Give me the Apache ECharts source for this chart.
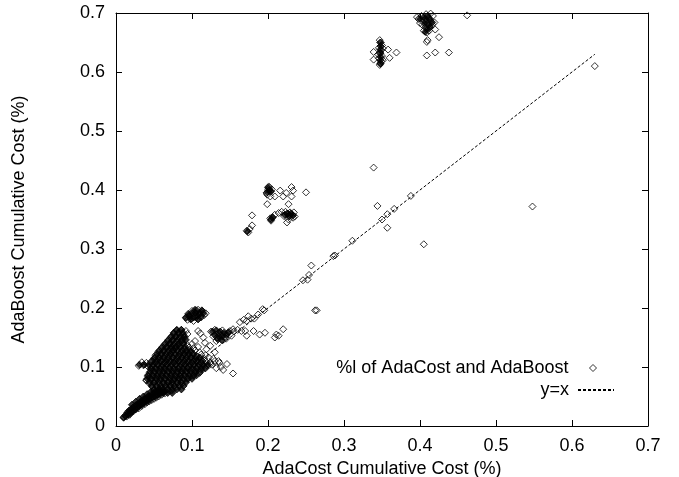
<!DOCTYPE html>
<html>
<head>
<meta charset="utf-8">
<script src="https://cdn.jsdelivr.net/npm/echarts@6/dist/echarts.min.js"></script>
<style>
  html, body { margin: 0; padding: 0; background: #fff; }
  #chart { width: 679px; height: 477px; }
</style>
</head>
<body>
<div id="chart"></div>
<script>
// axis ticks
var xTicks = [0, 0.1, 0.2, 0.3, 0.4, 0.5, 0.6, 0.7];
var yTicks = [0, 0.1, 0.2, 0.3, 0.4, 0.5, 0.6, 0.7];

// y=x reference line ends (min / max of the data)
var diagLine = [[0.010, 0.010], [0.63, 0.63]];

// low tail near origin (open marks)
var tailPts = [
  [0.010,0.015],[0.012,0.018],[0.014,0.016],[0.015,0.020],[0.017,0.022],[0.018,0.019],
  [0.020,0.024],[0.021,0.027],[0.023,0.025],[0.024,0.030],[0.026,0.028],[0.027,0.032],
  [0.029,0.034],[0.030,0.030],[0.031,0.036],[0.033,0.038],[0.034,0.034],[0.035,0.040],
  [0.037,0.042],[0.038,0.037],[0.040,0.044],[0.041,0.040],[0.043,0.046],[0.044,0.042],
  [0.046,0.048],[0.047,0.044],[0.049,0.050],[0.050,0.046],[0.052,0.052],[0.053,0.048],
  [0.055,0.054],[0.056,0.050],[0.058,0.056],[0.060,0.053],[0.062,0.058],[0.064,0.055]
];

// main blob, outer marks (x 0.03-0.14, y 0.06-0.165)
var blobPts = [
  [0.050,0.060],[0.056,0.061],[0.062,0.059],[0.068,0.062],[0.074,0.060],
  [0.048,0.066],[0.054,0.067],[0.060,0.065],[0.066,0.066],[0.072,0.067],[0.078,0.065],[0.084,0.068],
  [0.044,0.072],[0.050,0.073],[0.057,0.071],[0.063,0.072],[0.069,0.074],[0.075,0.071],[0.081,0.073],[0.087,0.072],
  [0.040,0.078],[0.046,0.079],[0.052,0.077],[0.058,0.078],[0.064,0.080],[0.070,0.077],[0.076,0.078],[0.082,0.079],[0.088,0.077],[0.094,0.080],
  [0.042,0.084],[0.048,0.085],[0.054,0.083],[0.060,0.084],[0.066,0.086],[0.072,0.083],[0.078,0.085],[0.084,0.084],[0.090,0.086],[0.096,0.083],[0.102,0.085],
  [0.044,0.090],[0.050,0.091],[0.056,0.089],[0.062,0.090],[0.068,0.092],[0.074,0.089],[0.080,0.091],[0.086,0.090],[0.092,0.092],[0.098,0.089],[0.104,0.091],[0.110,0.090],
  [0.046,0.096],[0.052,0.097],[0.058,0.095],[0.064,0.096],[0.070,0.098],[0.076,0.095],[0.082,0.097],[0.088,0.096],[0.094,0.098],[0.100,0.095],[0.106,0.097],[0.112,0.096],[0.118,0.098],
  [0.030,0.102],[0.036,0.103],[0.042,0.101],[0.048,0.102],[0.054,0.104],[0.060,0.101],[0.066,0.103],[0.072,0.102],[0.078,0.104],[0.084,0.101],[0.090,0.103],[0.096,0.102],[0.102,0.104],[0.108,0.101],[0.114,0.103],[0.120,0.102],[0.126,0.104],
  [0.034,0.108],[0.040,0.107],[0.046,0.109],[0.052,0.108],[0.058,0.110],[0.064,0.107],[0.070,0.109],[0.076,0.108],[0.082,0.110],[0.088,0.107],[0.094,0.109],[0.100,0.108],[0.106,0.110],[0.112,0.107],[0.118,0.109],[0.124,0.108],[0.130,0.110],[0.136,0.107],
  [0.050,0.114],[0.056,0.115],[0.062,0.113],[0.068,0.114],[0.074,0.116],[0.080,0.113],[0.086,0.115],[0.092,0.114],[0.098,0.116],[0.104,0.113],[0.110,0.115],[0.116,0.114],[0.122,0.116],
  [0.052,0.120],[0.058,0.121],[0.064,0.119],[0.070,0.120],[0.076,0.122],[0.082,0.119],[0.088,0.121],[0.094,0.120],[0.100,0.122],[0.106,0.119],[0.112,0.121],[0.118,0.120],
  [0.056,0.126],[0.062,0.127],[0.068,0.125],[0.074,0.126],[0.080,0.128],[0.086,0.125],[0.092,0.127],[0.098,0.126],[0.104,0.128],[0.110,0.125],
  [0.060,0.132],[0.066,0.133],[0.072,0.131],[0.078,0.132],[0.084,0.134],[0.090,0.131],[0.096,0.133],[0.102,0.132],[0.108,0.134],
  [0.064,0.138],[0.070,0.139],[0.076,0.137],[0.082,0.138],[0.088,0.140],[0.094,0.137],[0.100,0.139],
  [0.068,0.144],[0.074,0.145],[0.080,0.143],[0.086,0.144],[0.092,0.146],
  [0.072,0.150],[0.078,0.151],[0.084,0.149],[0.090,0.150],
  [0.076,0.156],[0.082,0.157],[0.088,0.155],[0.094,0.156],
  [0.080,0.162],[0.086,0.163],[0.092,0.161]
];

// loose points around the blob
var loosePts = [
  [0.111,0.157],[0.104,0.144],[0.117,0.141],[0.119,0.130],[0.124,0.136],[0.130,0.125],
  [0.128,0.114],[0.135,0.110],[0.141,0.095],[0.146,0.105],[0.154,0.089],[0.124,0.105],
  [0.138,0.100],[0.132,0.098],[0.115,0.150],[0.108,0.161],[0.071,0.139],[0.075,0.130],
  [0.040,0.077],[0.100,0.195]
];

// small group at x~0.1, y~0.19
var groupA = [
  [0.092,0.183],[0.096,0.186],[0.100,0.182],[0.104,0.185],[0.108,0.181],[0.112,0.184],
  [0.098,0.190],[0.104,0.192],[0.110,0.190],[0.114,0.194],[0.106,0.196],[0.116,0.188],
  [0.094,0.180],[0.102,0.178],[0.108,0.197],[0.118,0.191]
];

// group at x~0.14, y~0.155
var groupB = [
  [0.125,0.160],[0.130,0.163],[0.135,0.158],[0.140,0.162],[0.128,0.152],[0.133,0.150],
  [0.138,0.154],[0.143,0.150],[0.147,0.157],[0.150,0.161],[0.132,0.144],[0.140,0.145],
  [0.145,0.148],[0.152,0.153],[0.155,0.160],[0.160,0.163],[0.165,0.161],[0.154,0.164]
];

// points near x 0.16-0.27
var midPts = [
  [0.163,0.176],[0.168,0.180],[0.172,0.178],[0.174,0.186],[0.178,0.182],[0.187,0.189],
  [0.193,0.198],[0.195,0.196],[0.182,0.182],[0.172,0.153],[0.181,0.161],[0.189,0.155],
  [0.196,0.158],[0.209,0.150],[0.214,0.153],[0.220,0.164],[0.211,0.155],[0.170,0.161],
  [0.262,0.196],[0.264,0.196],[0.257,0.272],[0.246,0.247],[0.252,0.248],[0.254,0.256]
];

// cluster at x~0.2, y~0.33-0.41
var groupC = [
  [0.198,0.395],[0.200,0.400],[0.202,0.404],[0.199,0.392],[0.203,0.397],[0.205,0.401],[0.201,0.406],
  [0.216,0.399],[0.203,0.389],[0.209,0.389],[0.220,0.389],[0.231,0.405],[0.233,0.399],[0.231,0.389],
  [0.250,0.396],[0.199,0.376],[0.227,0.376],[0.224,0.395],
  [0.204,0.348],[0.206,0.353],[0.203,0.352],[0.221,0.356],[0.225,0.360],[0.229,0.362],[0.232,0.358],
  [0.235,0.355],[0.223,0.363],[0.228,0.356],[0.234,0.362],[0.227,0.350],[0.233,0.353],[0.225,0.345],
  [0.214,0.361],[0.209,0.358],[0.218,0.363],
  [0.179,0.357],[0.179,0.340],[0.172,0.331],[0.174,0.328],[0.176,0.334]
];

// isolated points along the diagonal and outliers
var farPts = [
  [0.339,0.438],[0.344,0.373],[0.357,0.359],[0.366,0.368],[0.350,0.350],[0.357,0.336],
  [0.388,0.390],[0.311,0.314],[0.405,0.308],[0.286,0.288],[0.288,0.289],[0.548,0.372],
  [0.630,0.610]
];

// cluster at x~0.35, y~0.62-0.65
var groupD = [
  [0.347,0.612],[0.349,0.618],[0.346,0.623],[0.350,0.627],[0.347,0.632],[0.349,0.637],
  [0.346,0.641],[0.350,0.645],[0.348,0.650],[0.347,0.654],[0.351,0.620],[0.345,0.630],
  [0.351,0.640],[0.348,0.615],
  [0.339,0.634],[0.339,0.621],[0.358,0.638],[0.360,0.624],[0.369,0.633]
];

// cluster at x~0.41, y~0.63-0.70
var groupE = [
  [0.398,0.690],[0.402,0.695],[0.405,0.688],[0.408,0.698],[0.411,0.692],[0.414,0.686],
  [0.417,0.695],[0.403,0.680],[0.407,0.676],[0.410,0.682],[0.413,0.675],[0.416,0.680],
  [0.419,0.684],[0.405,0.670],[0.409,0.667],[0.412,0.670],[0.400,0.683],[0.396,0.693],
  [0.420,0.672],[0.414,0.699],
  [0.409,0.651],[0.410,0.654],[0.425,0.659],[0.409,0.628],[0.420,0.633],[0.438,0.633],
  [0.462,0.696]
];

// heavily overplotted cores (marks stacked so thick they print solid)
var tailCore = [
  [0.010,0.014],[0.013,0.017],[0.016,0.019],[0.015,0.023],[0.019,0.022],[0.022,0.025],
  [0.020,0.029],[0.025,0.028],[0.028,0.031],[0.026,0.035],[0.031,0.034],[0.034,0.036],
  [0.032,0.040],[0.037,0.039],[0.040,0.041],[0.038,0.045],[0.043,0.044],[0.046,0.046],
  [0.044,0.050],[0.049,0.049],[0.052,0.050],[0.050,0.055],[0.055,0.053],[0.058,0.054],
  [0.056,0.059],[0.061,0.057],[0.064,0.058],
  [0.017,0.026],[0.022,0.031],[0.027,0.036],[0.032,0.041],[0.037,0.046],[0.042,0.050],
  [0.047,0.054],[0.052,0.058],[0.057,0.062],
  [0.021,0.036],[0.026,0.041],[0.031,0.046],[0.036,0.050],[0.041,0.054],[0.046,0.058]
];

var blobCore = [
  [0.056,0.056],[0.062,0.056],[0.068,0.056],[0.074,0.056],
  [0.050,0.062],[0.056,0.062],[0.062,0.062],[0.068,0.062],[0.074,0.062],[0.080,0.062],[0.086,0.062],
  [0.047,0.068],[0.053,0.068],[0.059,0.068],[0.065,0.068],[0.071,0.068],[0.077,0.068],[0.083,0.068],[0.089,0.068],
  [0.044,0.074],[0.050,0.074],[0.056,0.074],[0.062,0.074],[0.068,0.074],[0.074,0.074],[0.080,0.074],[0.086,0.074],[0.092,0.074],
  [0.041,0.080],[0.047,0.080],[0.053,0.080],[0.059,0.080],[0.065,0.080],[0.071,0.080],[0.077,0.080],[0.083,0.080],[0.089,0.080],[0.095,0.080],[0.100,0.080],
  [0.042,0.086],[0.048,0.086],[0.054,0.086],[0.060,0.086],[0.066,0.086],[0.072,0.086],[0.078,0.086],[0.084,0.086],[0.090,0.086],[0.096,0.086],[0.102,0.086],[0.106,0.086],
  [0.045,0.092],[0.051,0.092],[0.057,0.092],[0.063,0.092],[0.069,0.092],[0.075,0.092],[0.081,0.092],[0.087,0.092],[0.093,0.092],[0.099,0.092],[0.105,0.092],[0.111,0.092],
  [0.046,0.098],[0.052,0.098],[0.058,0.098],[0.064,0.098],[0.070,0.098],[0.076,0.098],[0.082,0.098],[0.088,0.098],[0.094,0.098],[0.100,0.098],[0.106,0.098],[0.112,0.098],[0.117,0.098],
  [0.031,0.104],[0.037,0.104],[0.043,0.104],[0.049,0.104],[0.055,0.104],[0.061,0.104],[0.067,0.104],[0.073,0.104],[0.079,0.104],[0.085,0.104],[0.091,0.104],[0.097,0.104],[0.103,0.104],[0.109,0.104],[0.115,0.104],[0.121,0.104],
  [0.048,0.110],[0.054,0.110],[0.060,0.110],[0.066,0.110],[0.072,0.110],[0.078,0.110],[0.084,0.110],[0.090,0.110],[0.096,0.110],[0.102,0.110],[0.108,0.110],[0.114,0.110],
  [0.051,0.116],[0.057,0.116],[0.063,0.116],[0.069,0.116],[0.075,0.116],[0.081,0.116],[0.087,0.116],[0.093,0.116],[0.099,0.116],[0.105,0.116],[0.110,0.116],
  [0.054,0.122],[0.060,0.122],[0.066,0.122],[0.072,0.122],[0.078,0.122],[0.084,0.122],[0.090,0.122],[0.096,0.122],[0.102,0.122],
  [0.057,0.128],[0.063,0.128],[0.069,0.128],[0.075,0.128],[0.081,0.128],[0.087,0.128],[0.093,0.128],[0.098,0.128],
  [0.061,0.134],[0.067,0.134],[0.073,0.134],[0.079,0.134],[0.085,0.134],[0.091,0.134],
  [0.065,0.140],[0.071,0.140],[0.077,0.140],[0.083,0.140],[0.089,0.140],
  [0.069,0.146],[0.075,0.146],[0.081,0.146],[0.087,0.146],[0.091,0.146],
  [0.073,0.152],[0.079,0.152],[0.085,0.152],[0.090,0.152],
  [0.076,0.158],[0.082,0.158],[0.088,0.158],
  [0.080,0.163],[0.086,0.163]
];

var groupCore = [
  [0.092,0.184],[0.097,0.186],[0.102,0.184],[0.107,0.186],[0.112,0.186],[0.095,0.190],
  [0.100,0.191],[0.105,0.192],[0.110,0.192],[0.115,0.191],[0.098,0.181],[0.108,0.181],
  [0.113,0.196],[0.104,0.197],
  [0.127,0.160],[0.132,0.162],[0.137,0.160],[0.142,0.158],[0.130,0.154],[0.135,0.153],
  [0.140,0.152],[0.145,0.154],[0.148,0.159],[0.134,0.147],[0.139,0.146],
  [0.199,0.396],[0.202,0.400],[0.200,0.404],[0.204,0.398],
  [0.204,0.350],[0.206,0.354],[0.222,0.358],[0.226,0.360],[0.230,0.360],[0.233,0.357],[0.228,0.355],
  [0.173,0.330],
  [0.348,0.614],[0.348,0.620],[0.348,0.626],[0.348,0.632],[0.348,0.638],[0.348,0.644],[0.348,0.650],
  [0.400,0.690],[0.405,0.693],[0.410,0.695],[0.408,0.688],[0.413,0.690],[0.406,0.682],
  [0.411,0.680],[0.416,0.684],[0.409,0.673],[0.413,0.676],[0.407,0.668]
];

var openPts = [].concat(tailPts, blobPts, loosePts, groupA, groupB, midPts, groupC, farPts, groupD, groupE);
var solidPts = [].concat(tailCore, blobCore, groupCore);

var font = "'Liberation Sans', Arial, sans-serif";
var seriesName = "%l of AdaCost and AdaBoost";
var chart = echarts.init(document.getElementById("chart"));

function fmt(v) {
  return v === 0 ? "0" : String(Math.round(v * 10) / 10);
}

function frameAxis(pos) {
  return {
    type: "value",
    position: pos,
    min: 0,
    max: 0.7,
    interval: 0.1,
    axisLine: { show: true, onZero: false, lineStyle: { color: "#000", width: 1 } },
    axisTick: { show: true, inside: true, length: 6, lineStyle: { color: "#000" } },
    axisLabel: { show: false },
    splitLine: { show: false }
  };
}

var option = {
  animation: false,
  grid: { left: 116, right: 31, top: 13, bottom: 51, containLabel: false, outerBoundsMode: "none" },
  legend: [
    {
      right: 82,
      top: 359,
      padding: 0,
      align: "right",
      itemWidth: 7,
      itemHeight: 7,
      itemStyle: { color: "rgba(255,255,255,0)", borderColor: "#000", borderWidth: 1 },
      textStyle: { fontFamily: font, fontSize: 18, color: "#000", padding: [0, 16, 0, 0] },
      data: [seriesName]
    },
    {
      right: 64,
      top: 381,
      padding: 0,
      align: "right",
      itemWidth: 36,
      itemHeight: 1,
      itemStyle: { opacity: 0 },
      textStyle: { fontFamily: font, fontSize: 18, color: "#000", padding: [0, 4, 0, 0] },
      data: ["y=x"]
    }
  ],
  xAxis: [
    {
      type: "value",
      min: 0,
      max: 0.7,
      interval: 0.1,
      name: "AdaCost Cumulative Cost (%)",
      nameLocation: "middle",
      nameGap: 30,
      nameTextStyle: { fontFamily: font, fontSize: 18, color: "#000" },
      axisLine: { show: true, onZero: false, lineStyle: { color: "#000", width: 1 } },
      axisTick: { show: true, inside: true, length: 6, lineStyle: { color: "#000" } },
      axisLabel: { fontFamily: font, fontSize: 18, color: "#000", margin: 11, formatter: fmt },
      splitLine: { show: false }
    },
    frameAxis("top")
  ],
  yAxis: [
    {
      type: "value",
      min: 0,
      max: 0.7,
      interval: 0.1,
      name: "AdaBoost Cumulative Cost (%)",
      nameLocation: "middle",
      nameGap: 88,
      nameTextStyle: { fontFamily: font, fontSize: 18, color: "#000" },
      axisLine: { show: true, onZero: false, lineStyle: { color: "#000", width: 1 } },
      axisTick: { show: true, inside: true, length: 6, lineStyle: { color: "#000" } },
      axisLabel: { fontFamily: font, fontSize: 18, color: "#000", margin: 11, formatter: fmt },
      splitLine: { show: false }
    },
    frameAxis("right")
  ],
  series: [
    {
      name: seriesName,
      type: "scatter",
      symbol: "diamond",
      symbolSize: 7,
      itemStyle: { color: "rgba(255,255,255,0)", borderColor: "#000", borderWidth: 1 },
      data: openPts,
      z: 2
    },
    {
      name: seriesName,
      type: "scatter",
      symbol: "diamond",
      symbolSize: 7,
      itemStyle: { color: "#000", borderColor: "#000", borderWidth: 1 },
      data: solidPts,
      z: 3
    },
    {
      name: "y=x",
      type: "line",
      symbol: "none",
      lineStyle: { color: "#000", width: 1, type: [3, 2] },
      itemStyle: { color: "#000" },
      data: diagLine,
      z: 1
    }
  ]
};
chart.setOption(option);
</script>
</body>
</html>
